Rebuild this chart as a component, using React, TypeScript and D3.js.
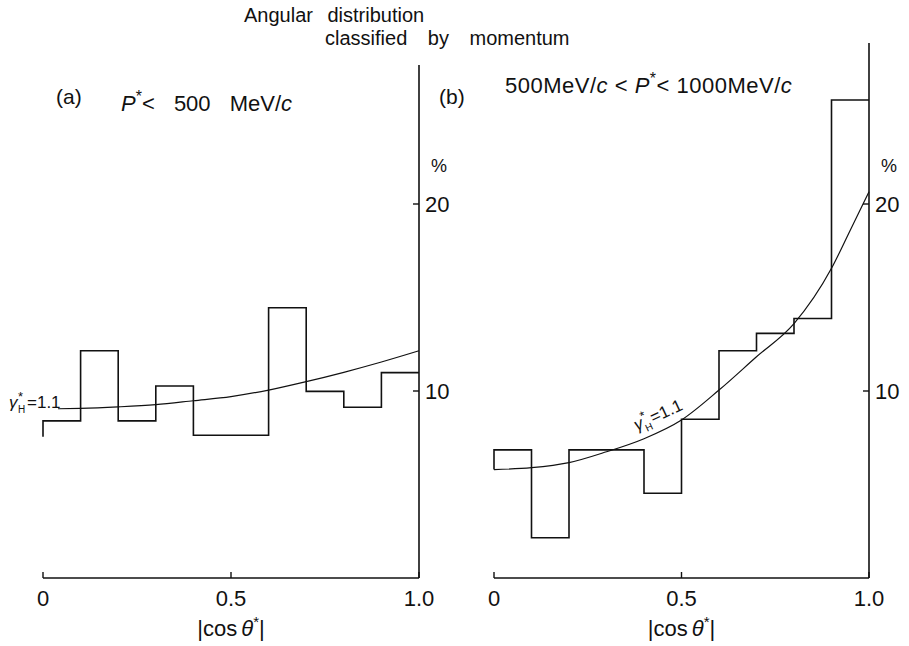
import React from "react";
import * as d3 from "d3";

const binEdges = [0, 0.1, 0.2, 0.3, 0.4, 0.5, 0.6, 0.7, 0.8, 0.9, 1.0];
const histA = [8.4, 12.15, 8.4, 10.27, 7.63, 7.63, 14.45, 9.98, 9.13, 10.98];
const histAStart = 7.55;
const histB = [6.85, 2.15, 6.85, 6.85, 4.53, 8.49, 12.15, 13.08, 13.88, 25.56];
const histBStart = 5.8;

const curveAx = [0.04, 0.1, 0.2, 0.3, 0.4, 0.5, 0.6, 0.7, 0.8, 0.9, 1.0];
const curveAy = [9.05, 9.07, 9.15, 9.27, 9.48, 9.7, 10.05, 10.5, 11.0, 11.55, 12.15];
const curveBx = [0, 0.1, 0.2, 0.3, 0.4, 0.5, 0.6, 0.7, 0.8, 0.9, 0.95, 1.0];
const curveBy = [5.8, 5.9, 6.17, 6.75, 7.45, 8.45, 10.05, 11.83, 13.6, 16.56, 18.6, 20.66];

const xTicks = [0, 0.5, 1.0];
const xTickLabels = ["0", "0.5", "1.0"];
const yTicks = [10, 20];
const yTickLabels = ["10", "20"];

const FONT = "'Liberation Sans', 'DejaVu Sans', sans-serif";
const INK = "#111";

function histPath(x: d3.ScaleLinear<number, number>, y: d3.ScaleLinear<number, number>, vals: number[], start: number) {
  const pts: [number, number][] = [[x(0), y(start)]];
  vals.forEach((v, i) => {
    pts.push([x(binEdges[i]), y(v)]);
    pts.push([x(binEdges[i + 1]), y(v)]);
  });
  return d3.line()(pts) || "";
}

function Panel({ x, y, hist, start, cx, cy, axisTop }: any) {
  const line = d3
    .line<number>()
    .x((_, i) => x(cx[i]))
    .y((d) => y(d))
    .curve(d3.curveMonotoneX);
  const x0 = x(0);
  const x1 = x(1);
  const yb = y(0);
  return (
    <g>
      <path d={histPath(x, y, hist, start)} fill="none" stroke={INK} strokeWidth={1.6} />
      <path d={line(cy) || ""} fill="none" stroke={INK} strokeWidth={1.2} />
      <line x1={x0} x2={x1} y1={yb} y2={yb} stroke={INK} strokeWidth={1.6} />
      {xTicks.map((t, i) => (
        <g key={"xt" + i}>
          <line x1={x(t)} x2={x(t)} y1={yb} y2={yb - 6} stroke={INK} strokeWidth={1.4} />
          <text x={x(t)} y={yb + 28} textAnchor="middle" fontSize={22} fontFamily={FONT} fill={INK}>
            {xTickLabels[i]}
          </text>
        </g>
      ))}
      <line x1={x1} x2={x1} y1={axisTop} y2={yb} stroke={INK} strokeWidth={1.6} />
      {yTicks.map((t, i) => (
        <g key={"yt" + i}>
          <line x1={x1 - 6} x2={x1} y1={y(t)} y2={y(t)} stroke={INK} strokeWidth={1.4} />
          <text x={x1 + 6} y={y(t) + 8} fontSize={22} fontFamily={FONT} fill={INK}>
            {yTickLabels[i]}
          </text>
        </g>
      ))}
      <text x={x1 + 12} y={y(20) - 32} fontSize={18} fontFamily={FONT} fill={INK}>%</text>
      <text x={(x0 + x1) / 2} y={yb + 58} textAnchor="middle" fontSize={22} fontFamily={FONT} fill={INK}>
        |cos
        <tspan fontStyle="italic" dx={4}>θ</tspan>
        <tspan fontSize={15} dy={-9}>*</tspan>
        <tspan dy={9}>|</tspan>
      </text>
    </g>
  );
}

function GammaLabel({ transform }: { transform: string }) {
  return (
    <g transform={transform}>
      <text x={0} y={0} fontSize={17} fontFamily={FONT} fill={INK} fontStyle="italic">γ</text>
      <text x={9} y={-7} fontSize={13} fontFamily={FONT} fill={INK}>*</text>
      <text x={9} y={5} fontSize={10} fontFamily={FONT} fill={INK}>H</text>
      <text x={18} y={0} fontSize={17} fontFamily={FONT} fill={INK}>=1.1</text>
    </g>
  );
}

export default function App() {
  const xA = d3.scaleLinear().domain([0, 1]).range([43, 419]);
  const xB = d3.scaleLinear().domain([0, 1]).range([494, 869]);
  const y = d3.scaleLinear().domain([0, 10]).range([578, 391]);
  return (
    <svg width={909} height={646} style={{ position: "absolute", left: 0, top: 0, background: "#fff" }}>
      <rect width={909} height={646} fill="#fff" />
      <text x={244} y={22} fontSize={20} fontFamily={FONT} fill={INK} wordSpacing={9}>
        Angular distribution
      </text>
      <text x={325} y={45} fontSize={20} fontFamily={FONT} fill={INK} wordSpacing={15}>
        classified by momentum
      </text>
      <Panel x={xA} y={y} hist={histA} start={histAStart} cx={curveAx} cy={curveAy} axisTop={65} />
      <Panel x={xB} y={y} hist={histB} start={histBStart} cx={curveBx} cy={curveBy} axisTop={43} />
      <text x={56} y={104} fontSize={21} fontFamily={FONT} fill={INK}>(a)</text>
      <text x={121} y={111} fontSize={22} fontFamily={FONT} fill={INK} wordSpacing={13}>
        <tspan fontStyle="italic">P</tspan>
        <tspan fontSize={16} dy={-9}>*</tspan>
        <tspan dy={9}>{"< 500 MeV/"}</tspan>
        <tspan fontStyle="italic">c</tspan>
      </text>
      <text x={439} y={104} fontSize={21} fontFamily={FONT} fill={INK}>(b)</text>
      <text x={505} y={93} fontSize={22} fontFamily={FONT} fill={INK} letterSpacing={0.5}>
        {"500MeV/"}
        <tspan fontStyle="italic">c</tspan>
        {" < "}
        <tspan fontStyle="italic">P</tspan>
        <tspan fontSize={16} dy={-9}>*</tspan>
        <tspan dy={9}>{"< 1000MeV/"}</tspan>
        <tspan fontStyle="italic">c</tspan>
      </text>
      <GammaLabel transform="translate(9,408)" />
      <GammaLabel transform="translate(637,431) rotate(-25)" />
    </svg>
  );
}
